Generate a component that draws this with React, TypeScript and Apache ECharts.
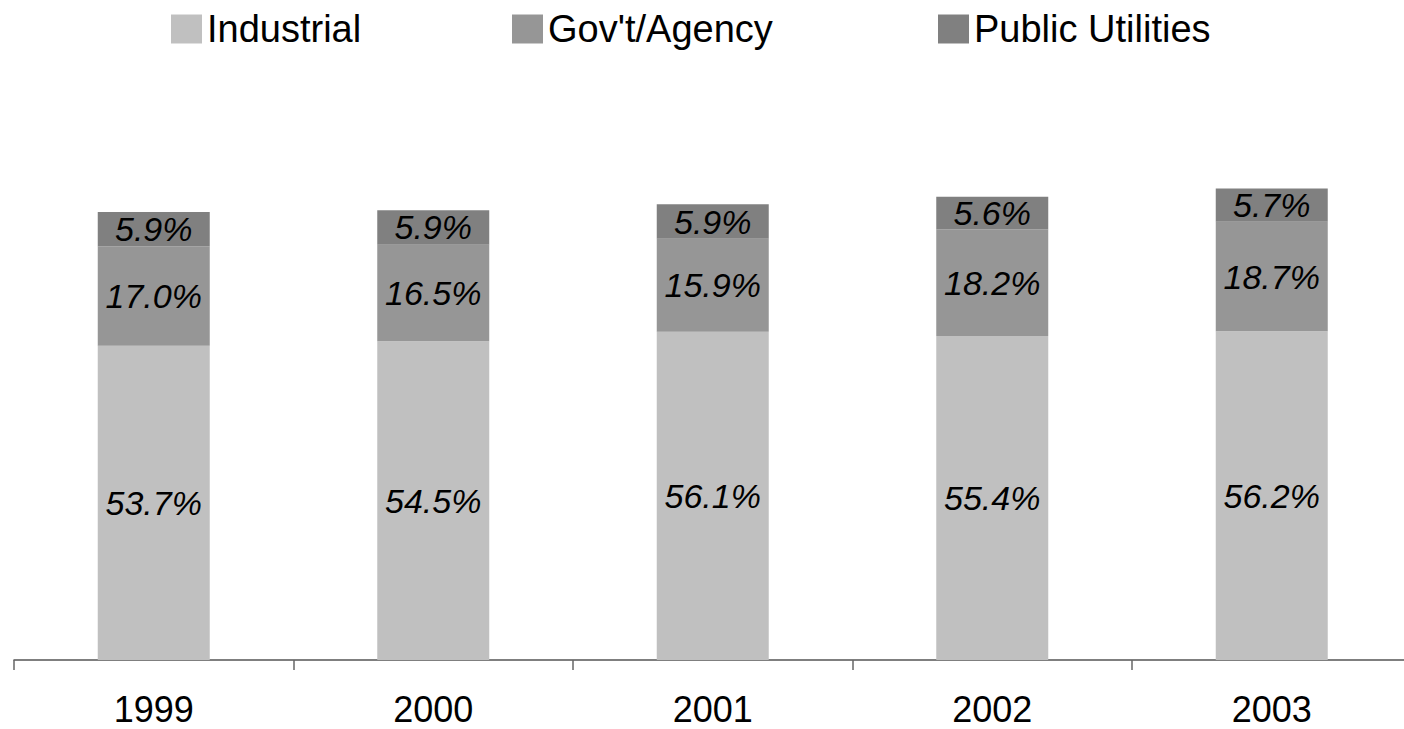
import React, { useEffect, useRef } from "react";
import * as echarts from "echarts";

const years = ["1999", "2000", "2001", "2002", "2003"];
const industrial = [53.7, 54.5, 56.1, 55.4, 56.2];
const govAgency = [17.0, 16.5, 15.9, 18.2, 18.7];
const publicUtilities = [5.9, 5.9, 5.9, 5.6, 5.7];

const seriesNames = ["Industrial", "Gov't/Agency", "Public Utilities"];
const seriesColors = ["#C0C0C0", "#969696", "#808080"];
const legendLefts = [171, 512, 938];

const FONT = "'Liberation Sans', Arial, sans-serif";

export default function App() {
  const ref = useRef<HTMLDivElement>(null);

  useEffect(() => {
    if (!ref.current) return;
    const chart = echarts.init(ref.current, undefined, { renderer: "svg" });
    const dataSets = [industrial, govAgency, publicUtilities];
    const option: any = {
      animation: false,
      backgroundColor: "#ffffff",
      legend: seriesNames.map((name, i) => ({
        data: [{ name, icon: "rect" }],
        left: legendLefts[i],
        top: 10,
        itemWidth: 31,
        itemHeight: 29,
        itemGap: 0,
        padding: 0,
        textStyle: { fontSize: 38, color: "#000", fontFamily: FONT },
        selectedMode: false,
      })),
      grid: {
        left: 14,
        top: 75,
        width: 1397.5,
        height: 585,
        containLabel: false,
        outerBoundsMode: "none",
      },
      xAxis: {
        type: "category",
        data: years,
        boundaryGap: true,
        axisLine: { show: true, lineStyle: { color: "#555", width: 1.5 } },
        axisTick: { show: true, length: 10, lineStyle: { color: "#666", width: 1.5 } },
        axisLabel: {
          fontSize: 36,
          lineHeight: 36,
          color: "#000",
          fontFamily: FONT,
          margin: 31,
        },
      },
      yAxis: {
        type: "value",
        min: 0,
        max: 100,
        show: false,
        splitLine: { show: false },
      },
      series: seriesNames.map((name, i) => ({
        name,
        type: "bar",
        stack: "total",
        barWidth: 112,
        data: dataSets[i],
        itemStyle: { color: seriesColors[i] },
        label: {
          show: true,
          position: "inside",
          fontSize: 34,
          fontStyle: "italic",
          color: "#000",
          fontFamily: FONT,
          formatter: (p: any) => `${Number(p.value).toFixed(1)}%`,
        },
      })),
    };
    chart.setOption(option);
    return () => chart.dispose();
  }, []);

  return (
    <div
      ref={ref}
      style={{ position: "fixed", left: 0, top: 0, width: 1404, height: 729 }}
    />
  );
}
